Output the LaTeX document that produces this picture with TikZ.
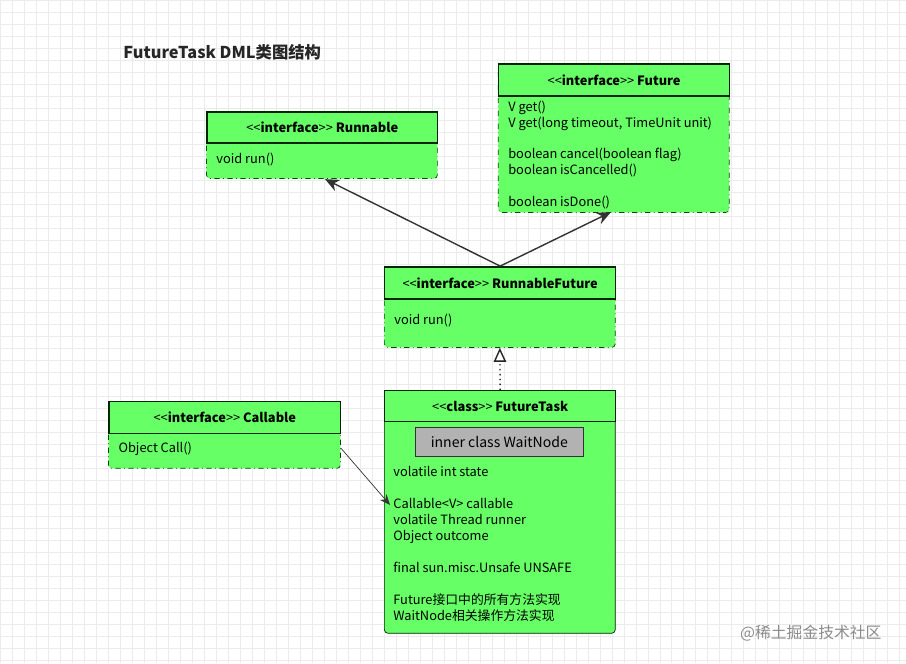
\documentclass[tikz,border=0pt]{standalone}
\usepackage{fontspec}
\setmainfont{Noto Sans CJK SC}
\usetikzlibrary{arrows.meta}
\newcommand{\stereo}[1]{\mbox{<}\mbox{<}\textbf{#1}\mbox{>}\mbox{>}}
\begin{document}
\begin{tikzpicture}[
        x=0.02cm, y=-0.02cm,
        font=\fontsize{7.3}{9.1}\selectfont,
        head/.style={rectangle, draw=black!85!green, thick, fill=umlgreen, anchor=north west, inner sep=0pt},
        body/.style={rectangle, draw=black!70!green, dash dot, rounded corners=2pt, fill=umlgreen, anchor=north west, inner sep=0pt},
        txt/.style={anchor=north west, align=left, inner sep=0pt},
        arrow/.style={-{Stealth[length=8pt,width=7pt]}, thick, draw=black!80}
    ]
        \definecolor{umlgreen}{RGB}{102,255,102}
        % background grid
        \fill[white] (0,0) rectangle (906,663);
        \draw[black!8, line width=0.3pt, step=0.24cm] (0,0) grid (906,663);
        \node[anchor=west, font=\fontsize{9.3}{11}\selectfont\bfseries, text=black!85] (title) at (117,52) {FutureTask DML类图结构};

        % Runnable
        \node[body, minimum width=231*0.02cm, minimum height=67*0.02cm] (runnableb) at (206,111) {};
        \node[head, minimum width=231*0.02cm, minimum height=31*0.02cm] (runnable) at (206,111) {\stereo{interface} \textbf{Runnable}};
        \node[txt] at (216,152) {void run()};

        % Future
        \node[body, minimum width=231*0.02cm, minimum height=149*0.02cm] (futureb) at (498,63) {};
        \node[head, minimum width=231*0.02cm, minimum height=32*0.02cm] (future) at (498,63) {\stereo{interface} \textbf{Future}};
        \node[txt] at (508,100) {V get()\\V get(long timeout, TimeUnit unit)\\[9.1pt]boolean cancel(boolean flag)\\boolean isCancelled()\\[9.1pt]boolean isDone()};

        % RunnableFuture
        \node[body, minimum width=231*0.02cm, minimum height=81*0.02cm] (rfutureb) at (384,266) {};
        \node[head, minimum width=231*0.02cm, minimum height=32*0.02cm] (rfuture) at (384,266) {\stereo{interface} \textbf{RunnableFuture}};
        \node[txt] at (394,314) {void run()};

        % Callable
        \node[body, minimum width=232*0.02cm, minimum height=67*0.02cm] (callableb) at (108,401) {};
        \node[head, minimum width=232*0.02cm, minimum height=32*0.02cm] (callable) at (108,401) {\stereo{interface} \textbf{Callable}};
        \node[txt] at (118,442) {Object Call()};

        % FutureTask
        \node[body, draw=black!85!green, solid, minimum width=231*0.02cm, minimum height=243*0.02cm] (ftaskb) at (384,390) {};
        \node[head, minimum width=231*0.02cm, minimum height=31*0.02cm] (ftask) at (384,390) {\stereo{class} \textbf{FutureTask}};
        \node[rectangle, draw=black!80, fill=black!30, minimum width=168*0.02cm, minimum height=29*0.02cm, anchor=north west, inner sep=0pt, font=\fontsize{8}{9}\selectfont] (waitnode) at (415,427) {inner class WaitNode};
        \node[txt] (fields) at (393,466) {volatile int state\\[9.1pt]Callable\mbox{<}V\mbox{>} callable\\volatile Thread runner\\Object outcome\\[9.1pt]final sun.misc.Unsafe UNSAFE\\[9.1pt]Future接口中的所有方法实现\\WaitNode相关操作方法实现};

        % Arrows
        \draw[arrow] (rfuture.north) -- (325,179);
        \draw[arrow] (rfuture.north) -- (611,212);
        \draw[thick, dotted, -{Triangle[open,length=8pt,width=7pt]}, black!85] (ftask.north) -- (rfutureb.south);
        \draw[black!80, -{Stealth[length=6pt,width=5pt]}] (callableb.east |- 0,448) -- (390,505);

        \node[anchor=east, text=black!45, font=\fontsize{9}{10}\selectfont] (mark) at (888,633) {@稀土掘金技术社区};
\end{tikzpicture}
\end{document}
